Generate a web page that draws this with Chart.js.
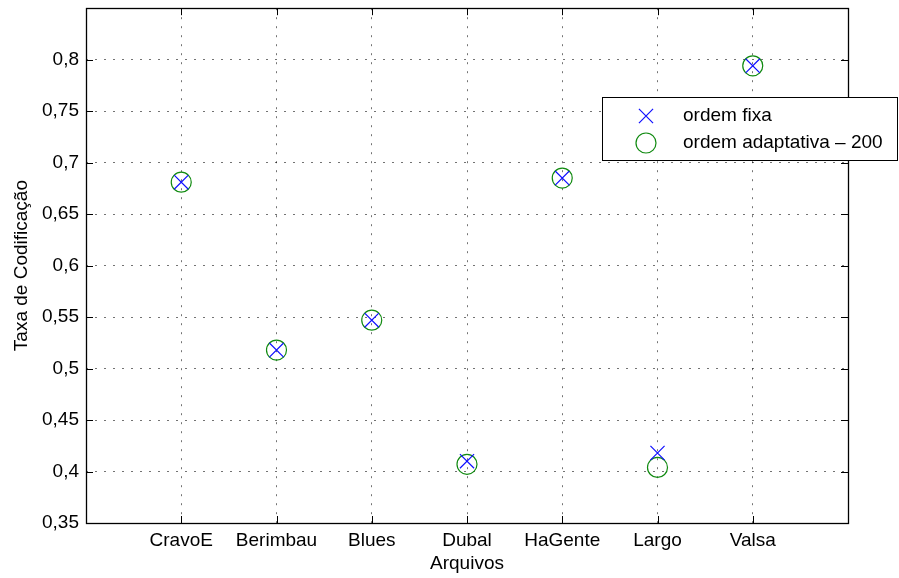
<!DOCTYPE html>
<html>
<head>
<meta charset="utf-8">
<script src="https://cdn.jsdelivr.net/npm/chart.js@4.4.1/dist/chart.umd.min.js"></script>
<style>
  html, body { margin: 0; padding: 0; background: #fff; overflow: hidden; }
  #wrap { width: 899px; height: 578px; overflow: hidden; }
  /* the points' overflow keeps the chart area 11px from the top, so pull the canvas up */
  #taxa-chart { display: block; margin-top: -3px; }
</style>
</head>
<body>
<div id="wrap"><canvas id="taxa-chart" width="899" height="581"></canvas></div>
<script>
// Data
const categories = ['CravoE', 'Berimbau', 'Blues', 'Dubal', 'HaGente', 'Largo', 'Valsa'];
const ordemFixa = [0.681, 0.518, 0.547, 0.410, 0.685, 0.418, 0.794];
const ordemAdaptativa = [0.681, 0.518, 0.547, 0.407, 0.685, 0.404, 0.794];
const yTicks = [0.35, 0.4, 0.45, 0.5, 0.55, 0.6, 0.65, 0.7, 0.75, 0.8];

const FONT = "'Liberation Sans', Arial, Helvetica, sans-serif";
Chart.defaults.font.family = FONT;
Chart.defaults.font.size = 19;
Chart.defaults.color = '#000';

const gridColor = 'rgba(0, 0, 0, 0.55)';

function toPoints(values) {
  return values.map(function (v, i) { return { x: i + 1, y: v }; });
}

function fmtComma(v) {
  return String(Number(v.toFixed(2))).replace('.', ',');
}

// Box round the axes plus the inward tick marks, MATLAB style
const axesFrame = {
  id: 'axesFrame',
  afterDatasetsDraw(chart) {
    const { ctx, chartArea: a, scales: { x, y } } = chart;
    const tl = 7;
    ctx.save();
    ctx.strokeStyle = '#000';
    ctx.lineWidth = 1;
    ctx.beginPath();
    x.ticks.forEach(function (t) {
      if (t.value <= x.min || t.value >= x.max) return;
      const px = Math.round(x.getPixelForValue(t.value)) + 0.5;
      ctx.moveTo(px, a.bottom); ctx.lineTo(px, a.bottom - tl);
      ctx.moveTo(px, a.top); ctx.lineTo(px, a.top + tl);
    });
    yTicks.forEach(function (v) {
      const py = Math.round(y.getPixelForValue(v)) + 0.5;
      ctx.moveTo(a.left, py); ctx.lineTo(a.left + tl, py);
      ctx.moveTo(a.right, py); ctx.lineTo(a.right - tl, py);
    });
    ctx.stroke();
    ctx.lineWidth = 1.3;
    ctx.strokeRect(Math.round(a.left) + 0.5, Math.round(a.top) + 0.5,
      Math.round(a.right - a.left), Math.round(a.bottom - a.top));
    ctx.restore();
  }
};

// Legend box sitting over the top-right corner of the axes
const boxLegend = {
  id: 'boxLegend',
  afterDraw(chart, args, opts) {
    const { ctx } = chart;
    ctx.save();
    ctx.fillStyle = '#fff';
    ctx.fillRect(opts.x, opts.y, opts.w, opts.h);
    ctx.strokeStyle = '#000';
    ctx.lineWidth = 1;
    ctx.strokeRect(opts.x + 0.5, opts.y + 0.5, opts.w, opts.h);
    ctx.font = '19px ' + FONT;
    ctx.textBaseline = 'middle';
    ctx.textAlign = 'left';
    chart.data.datasets.forEach(function (ds, i) {
      const cy = opts.y + opts.rowTop + i * opts.rowH;
      const cx = opts.x + opts.markerX;
      ctx.strokeStyle = ds.borderColor;
      ctx.lineWidth = ds.pointBorderWidth;
      ctx.beginPath();
      if (ds.pointStyle === 'crossRot') {
        const d = ds.pointRadius * Math.SQRT1_2;
        ctx.moveTo(cx - d, cy - d); ctx.lineTo(cx + d, cy + d);
        ctx.moveTo(cx - d, cy + d); ctx.lineTo(cx + d, cy - d);
      } else {
        ctx.arc(cx, cy, ds.pointRadius, 0, Math.PI * 2);
      }
      ctx.stroke();
      ctx.fillStyle = '#000';
      ctx.fillText(ds.label, opts.x + opts.textX, cy);
    });
    ctx.restore();
  }
};

const ctx = document.getElementById('taxa-chart').getContext('2d');
const taxaChart = new Chart(ctx, {
  type: 'scatter',
  data: {
    datasets: [
      {
        label: 'ordem fixa',
        data: toPoints(ordemFixa),
        pointStyle: 'crossRot',
        pointRadius: 10,
        borderColor: '#1010ff',
        backgroundColor: 'rgba(0,0,0,0)',
        pointBorderWidth: 1.2,
      },
      {
        label: 'ordem adaptativa \u2013 200',
        data: toPoints(ordemAdaptativa),
        pointStyle: 'circle',
        pointRadius: 10,
        borderColor: '#108a10',
        backgroundColor: 'rgba(0,0,0,0)',
        pointBorderWidth: 1.2,
      },
    ],
  },
  options: {
    responsive: false,
    animation: false,
    layout: { padding: { top: 0, right: 51, bottom: 0, left: 0 } },
    plugins: {
      legend: { display: false },
      tooltip: { enabled: false },
      boxLegend: { x: 602, y: 100, w: 295, h: 63, markerX: 44, textX: 81, rowTop: 19, rowH: 27 },
    },
    scales: {
      x: {
        type: 'linear',
        min: 0,
        max: 8,
        afterFit: function (scale) {
          scale.height = 55;
          scale.paddingLeft = 0;
          scale.paddingRight = 0;
        },
        ticks: {
          stepSize: 1,
          autoSkip: false,
          maxRotation: 0,
          padding: 6,
          callback: function (v) { return categories[v - 1] || ''; },
        },
        grid: {
          drawTicks: false,
          lineWidth: 1,
          color: function (c) {
            const v = c.tick ? c.tick.value : 0;
            return (v <= 0 || v >= 8) ? 'rgba(0,0,0,0)' : gridColor;
          },
        },
        border: { display: false, dash: [2, 7] },
        title: { display: true, text: 'Arquivos', padding: { top: 0, bottom: 3 } },
      },
      y: {
        min: 0.35,
        max: 0.85,
        afterFit: function (scale) {
          scale.width = 86;
          scale.paddingTop = 0;
          scale.paddingBottom = 0;
        },
        afterBuildTicks: function (scale) {
          scale.ticks = yTicks.concat([0.85]).map(function (v) { return { value: v }; });
        },
        ticks: {
          padding: 7,
          callback: function (v) { return v > 0.84 ? '' : fmtComma(v); },
        },
        grid: {
          drawTicks: false,
          lineWidth: 1,
          color: function (c) {
            const v = c.tick ? c.tick.value : 0;
            return (v <= 0.351 || v >= 0.849) ? 'rgba(0,0,0,0)' : gridColor;
          },
        },
        border: { display: false, dash: [2, 7] },
        title: { display: true, text: 'Taxa de Codifica\u00e7\u00e3o', padding: { top: 10, bottom: 0 } },
      },
    },
  },
  plugins: [axesFrame, boxLegend],
});
</script>
</body>
</html>
